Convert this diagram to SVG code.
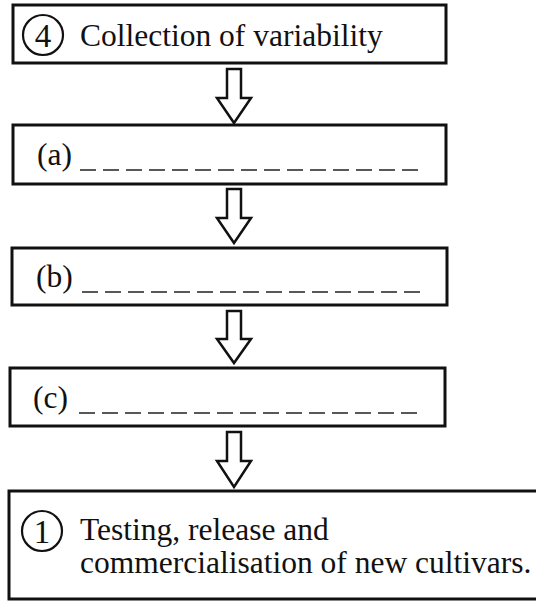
<svg xmlns="http://www.w3.org/2000/svg" width="536" height="602" viewBox="0 0 536 602">
<style>
.box{fill:#fff;stroke:#111;stroke-width:3}
.c{fill:none;stroke:#111;stroke-width:2.2}
.dash{stroke:#222;stroke-width:1.6;stroke-dasharray:16 7}
.arr{fill:#fff;stroke:#111;stroke-width:2.5;stroke-linejoin:miter}
</style>
<rect width="536" height="602" fill="#fff"/>
<g id="connectors">
<polygon class="arr" points="227,69 241,69 241,98 251,98 234,123 217,98 227,98"/>
<polygon class="arr" points="227,189 241,189 241,218 251,218 234,243 217,218 227,218"/>
<polygon class="arr" points="227,311 241,311 241,339 251,339 234,363 217,339 227,339"/>
<polygon class="arr" points="227,432 241,432 241,461 251,461 234,487 217,461 227,461"/>
</g>
<g font-family="'Liberation Serif','Times New Roman','DejaVu Serif',serif" font-size="31.5" fill="#111">
<g id="node4">
<rect class="box" x="13" y="5" width="433" height="58"/>
<circle class="c" cx="43" cy="35" r="20"/>
<text x="43" y="47" font-size="33" text-anchor="middle">4</text>
<text x="80" y="46">Collection of variability</text>
</g>
<g id="nodeA">
<rect class="box" x="13" y="125" width="433" height="59"/>
<text x="37" y="165">(a)</text>
<line class="dash" x1="80" y1="170" x2="418" y2="170"/>
</g>
<g id="nodeB">
<rect class="box" x="12" y="248" width="435" height="57"/>
<text x="36" y="287">(b)</text>
<line class="dash" x1="82" y1="292" x2="420" y2="292"/>
</g>
<g id="nodeC">
<rect class="box" x="10" y="368" width="435" height="58"/>
<text x="33" y="408">(c)</text>
<line class="dash" x1="79" y1="413" x2="417" y2="413"/>
</g>
<g id="node1">
<rect class="box" x="9" y="491" width="540" height="108"/>
<circle class="c" cx="42" cy="531" r="20"/>
<text x="42" y="543" font-size="33" text-anchor="middle">1</text>
<text x="80" y="540">Testing, release and</text>
<text x="80" y="573">commercialisation of new cultivars.</text>
</g>
</g>
</svg>
